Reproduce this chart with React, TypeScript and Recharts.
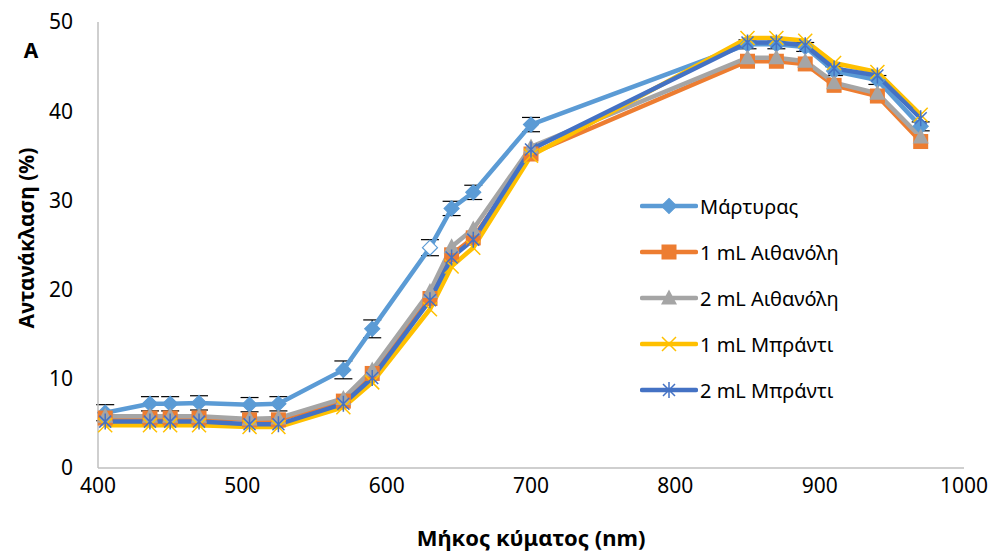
import { LineChart, Line, XAxis, YAxis, ErrorBar, Label } from 'recharts';

// wavelength (nm) and reflectance (%) per treatment
const wavelengths = [405, 436, 450, 470, 505, 525, 570, 590, 630, 645, 660, 700, 850, 870, 890, 910, 940, 970];
const control = [6.2, 7.2, 7.2, 7.3, 7.1, 7.2, 11.0, 15.6, 24.7, 29.1, 30.9, 38.5, 47.5, 47.5, 47.2, 44.5, 43.5, 38.3];
const controlErr = [0.9, 0.8, 0.8, 0.8, 0.8, 0.8, 1.0, 1.0, 0.9, 0.8, 0.8, 0.8, 0.5, 0.5, 0.5, 0.5, 0.5, 0.5];
const ethanol1 = [5.6, 5.6, 5.6, 5.6, 5.4, 5.4, 7.5, 10.6, 19.0, 23.9, 25.8, 35.2, 45.6, 45.6, 45.3, 42.9, 41.7, 36.6];
const ethanol2 = [5.8, 5.8, 5.8, 5.8, 5.5, 5.6, 7.8, 11.0, 19.8, 24.8, 26.8, 36.0, 46.0, 46.0, 45.6, 43.2, 42.0, 37.1];
const brandy1 = [4.8, 4.8, 4.8, 4.8, 4.6, 4.6, 6.8, 9.6, 17.8, 22.6, 24.7, 35.0, 48.2, 48.2, 47.9, 45.4, 44.4, 39.6];
const brandy2 = [5.2, 5.2, 5.2, 5.2, 4.9, 4.9, 7.2, 10.1, 18.8, 23.6, 25.6, 35.7, 47.7, 47.7, 47.4, 44.8, 44.0, 39.2];

const xTicks = [400, 500, 600, 700, 800, 900, 1000];
const yTicks = [0, 10, 20, 30, 40, 50];

const data = wavelengths.map((w, i) => ({
  w,
  control: control[i],
  controlErr: controlErr[i],
  ethanol1: ethanol1[i],
  ethanol2: ethanol2[i],
  brandy1: brandy1[i],
  brandy2: brandy2[i],
}));

const FONT = '"Noto Sans", sans-serif';

type Kind = 'diamond' | 'square' | 'triangle' | 'x' | 'star';

const series: { key: string; name: string; color: string; kind: Kind }[] = [
  { key: 'control', name: 'Μάρτυρας', color: '#5B9BD5', kind: 'diamond' },
  { key: 'ethanol1', name: '1 mL Αιθανόλη', color: '#ED7D31', kind: 'square' },
  { key: 'ethanol2', name: '2 mL Αιθανόλη', color: '#A5A5A5', kind: 'triangle' },
  { key: 'brandy1', name: '1 mL Μπράντι', color: '#FFC000', kind: 'x' },
  { key: 'brandy2', name: '2 mL Μπράντι', color: '#4472C4', kind: 'star' },
];

const Marker = ({ kind, cx, cy, color, hollow }: { kind: Kind; cx: number; cy: number; color: string; hollow?: boolean }) => {
  switch (kind) {
    case 'diamond':
      return (
        <path
          d={`M${cx},${cy - 7.5}L${cx + 7.5},${cy}L${cx},${cy + 7.5}L${cx - 7.5},${cy}Z`}
          fill={hollow ? '#fff' : color}
          stroke={color}
          strokeWidth={1.2}
        />
      );
    case 'square':
      return <rect x={cx - 7.5} y={cy - 7.5} width={15} height={15} fill={color} />;
    case 'triangle':
      return <path d={`M${cx},${cy - 8.5}L${cx + 8},${cy + 6.5}L${cx - 8},${cy + 6.5}Z`} fill={color} />;
    case 'x':
      return (
        <path
          d={`M${cx - 7},${cy - 7}L${cx + 7},${cy + 7}M${cx + 7},${cy - 7}L${cx - 7},${cy + 7}`}
          stroke={color}
          strokeWidth={1.5}
        />
      );
    default:
      return (
        <path
          d={`M${cx - 6},${cy - 6}L${cx + 6},${cy + 6}M${cx + 6},${cy - 6}L${cx - 6},${cy + 6}M${cx},${cy - 8}L${cx},${cy + 8}`}
          stroke={color}
          strokeWidth={1.5}
        />
      );
  }
};

// legend sits inside the plot area, right of the curves
const SeriesLegend = () => (
  <div style={{ position: 'absolute', left: 640, top: 183, fontFamily: FONT, fontSize: 20, color: '#000' }}>
    {series.map((s) => (
      <div key={s.key} style={{ display: 'flex', alignItems: 'center', height: 46 }}>
        <svg width={58} height={20} style={{ marginRight: 2 }}>
          <line x1={2} y1={10} x2={56} y2={10} stroke={s.color} strokeWidth={4.5} strokeLinecap="round" />
          <Marker kind={s.kind} cx={29} cy={10} color={s.color} />
        </svg>
        <span>{s.name}</span>
      </div>
    ))}
  </div>
);

export default function App() {
  return (
    <div style={{ position: 'absolute', left: 0, top: 0, width: 995, height: 558, background: '#fff' }}>
      <LineChart width={995} height={558} data={data} margin={{ top: 22, right: 31, bottom: 0, left: 38 }}>
        <XAxis
          dataKey="w"
          type="number"
          domain={[400, 1000]}
          ticks={xTicks}
          tickSize={0}
          tickMargin={10}
          axisLine={{ stroke: '#bfbfbf', strokeWidth: 1.5 }}
          tick={{ fill: '#000', fontSize: 21, fontFamily: FONT }}
          height={90}
        >
          <Label
            value="Μήκος κύματος (nm)"
            position="insideBottom"
            offset={12}
            style={{ fontFamily: FONT, fontSize: 22, fontWeight: 'bold', fill: '#000' }}
          />
        </XAxis>
        <YAxis
          type="number"
          domain={[0, 50]}
          ticks={yTicks}
          tickSize={0}
          tickMargin={25}
          width={60}
          axisLine={{ stroke: '#bfbfbf', strokeWidth: 1.5 }}
          tick={{ fill: '#000', fontSize: 21, fontFamily: FONT }}
        >
          <Label
            content={() => (
              <g style={{ fontFamily: FONT, fontWeight: 'bold', fill: '#000' }}>
                <text x={31} y={58} textAnchor="middle" fontSize={21}>
                  A
                </text>
                <text x={0} y={0} textAnchor="middle" fontSize={21} transform="translate(34,238) rotate(-90)">
                  Αντανάκλαση (%)
                </text>
              </g>
            )}
          />
        </YAxis>
        {series.map((s) => (
          <Line
            key={s.key}
            dataKey={s.key}
            name={s.name}
            stroke={s.color}
            strokeWidth={4.5}
            isAnimationActive={false}
            dot={(p: any) => (
              <Marker
                key={`${s.key}-${p.index}`}
                kind={s.kind}
                cx={p.cx}
                cy={p.cy}
                color={s.color}
                hollow={s.key === 'control' && p.index === 8}
              />
            )}
            activeDot={false}
          >
            {s.key === 'control' && (
              <ErrorBar dataKey="controlErr" direction="y" width={9} stroke="#000" strokeWidth={1.2} />
            )}
          </Line>
        ))}
      </LineChart>
      <SeriesLegend />
    </div>
  );
}
